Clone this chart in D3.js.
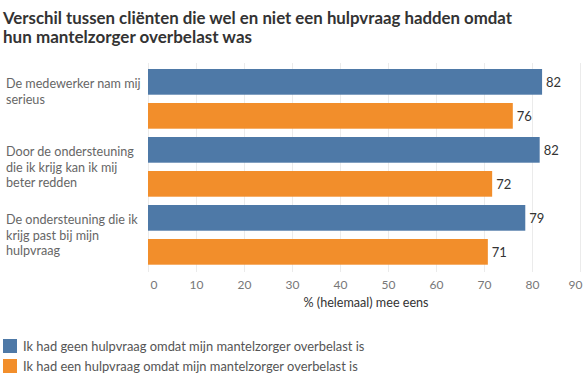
<!DOCTYPE html>
<html><head><meta charset="utf-8">
<script src="https://cdn.jsdelivr.net/npm/d3@7"></script>
<style>
html,body{margin:0;padding:0;background:#fff;}
svg{display:block;}
</style></head>
<body>
<script>
const titleLines = ["Verschil tussen cliënten die wel en niet een hulpvraag hadden omdat", "hun mantelzorger overbelast was"];
const categories = ["De medewerker nam mij serieus", "Door de ondersteuning die ik krijg kan ik mij beter redden", "De ondersteuning die ik krijg past bij mijn hulpvraag"];
const categoryLines = [["De medewerker nam mij", "serieus"], ["Door de ondersteuning", "die ik krijg kan ik mij", "beter redden"], ["De ondersteuning die ik", "krijg past bij mijn", "hulpvraag"]];
const seriesNames = ["Ik had geen hulpvraag omdat mijn mantelzorger overbelast is", "Ik had een hulpvraag omdat mijn mantelzorger overbelast is"];
const seriesGeen = [82.1, 81.6, 78.6];
const seriesEen = [76.0, 71.7, 70.8];
const xTicks = [0, 10, 20, 30, 40, 50, 60, 70, 80, 90];
const xTitle = "% (helemaal) mee eens";
const colors = ["#4e79a7", "#f28e2b"];

const W = 584, H = 384;
const svg = d3.select("body").append("svg").attr("width", W).attr("height", H);
const font = "Lato, 'Open Sans', sans-serif";

// title
const titleWidths = [509, 249];
svg.append("g").selectAll("text").data(titleLines).join("text")
  .attr("x", 3).attr("y", (d, i) => 24 + i * 19)
  .attr("font-family", font).attr("font-weight", "bold").attr("font-size", 17)
  .attr("textLength", (d, i) => titleWidths[i]).attr("lengthAdjust", "spacingAndGlyphs")
  .attr("fill", "#333").text(d => d);

const x = d3.scaleLinear().domain([0, 90]).range([148, 580]);
const y0 = d3.scaleBand().domain(categories).range([69, 273]);
const y1 = d3.scaleBand().domain([0, 1]).range([0, 59.7]).paddingInner(0.244);

// gridlines
svg.append("g").selectAll("line").data(xTicks).join("line")
  .attr("x1", d => x(d) + 0.5).attr("x2", d => x(d) + 0.5)
  .attr("y1", 63).attr("y2", 272)
  .attr("stroke", "#ebebeb").attr("stroke-width", 1);

// axis
const axis = d3.axisBottom(x).tickValues(xTicks).tickSize(0).tickPadding(0);
const ag = svg.append("g").attr("transform", "translate(0,289)").call(axis);
ag.select(".domain").remove();
ag.selectAll("text").attr("font-family", font).attr("font-size", 12).attr("fill", "#777").attr("dy", 0).attr("dominant-baseline", "auto");
// first and last labels kept inside the plot frame
ag.selectAll(".tick").filter(d => d === xTicks[0]).select("text")
  .attr("text-anchor", "start").attr("x", 2);
ag.selectAll(".tick").filter(d => d === xTicks[xTicks.length - 1]).select("text")
  .attr("text-anchor", "end").attr("x", 582 - x(xTicks[xTicks.length - 1]));

svg.append("text").attr("x", 366).attr("y", 307).attr("text-anchor", "middle")
  .attr("font-family", font).attr("font-size", 12.6).attr("fill", "#333").text(xTitle);

// bars
const rows = [];
categories.forEach((c, i) => {
  rows.push({cat: c, s: 0, v: seriesGeen[i]});
  rows.push({cat: c, s: 1, v: seriesEen[i]});
});
svg.append("g").selectAll("rect").data(rows).join("rect")
  .attr("x", x(0)).attr("y", d => y0(d.cat) + y1(d.s))
  .attr("width", d => x(d.v) - x(0)).attr("height", y1.bandwidth())
  .attr("fill", d => colors[d.s]);

svg.append("g").selectAll("text").data(rows).join("text")
  .attr("x", d => x(d.v) + 4).attr("y", d => y0(d.cat) + y1(d.s) + y1.bandwidth() / 2)
  .attr("dy", "0.36em")
  .attr("font-family", font).attr("font-size", 13).attr("fill", "#333")
  .text(d => d3.format(".0f")(d.v));

// category labels
const cg = svg.append("g");
categories.forEach((c, i) => {
  cg.append("g").selectAll("text").data(categoryLines[i]).join("text")
    .attr("x", 6).attr("y", (d, j) => y0(c) + 19.3 + j * 15.5)
    .attr("font-family", font).attr("font-size", 12.6).attr("fill", "#666").text(d => d);
});

// legend
const lg = svg.append("g");
seriesNames.forEach((s, i) => {
  lg.append("rect").attr("x", 3).attr("y", 339 + i * 20).attr("width", 14).attr("height", 14).attr("fill", colors[i]);
  lg.append("text").attr("x", 23).attr("y", 351 + i * 20)
    .attr("font-family", font).attr("font-size", 12.9).attr("fill", "#555").text(s);
});
</script>
</body></html>
